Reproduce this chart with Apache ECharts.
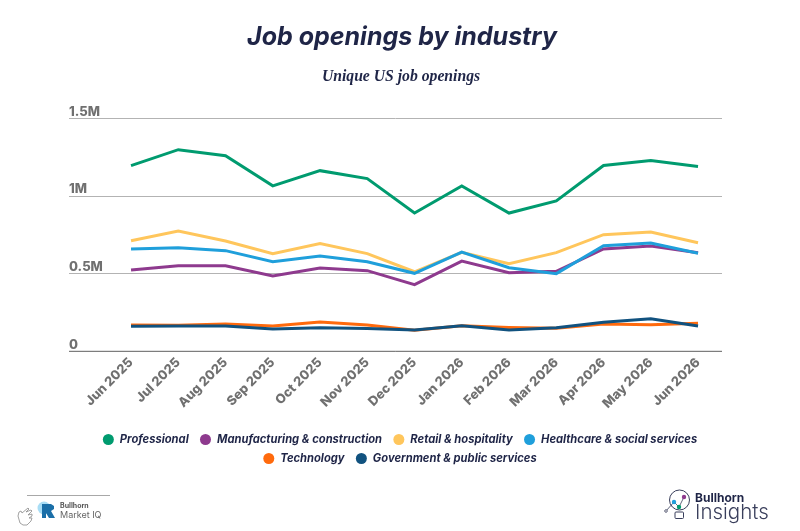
<!DOCTYPE html>
<html><head><meta charset="utf-8">
<style>html,body{margin:0;padding:0;background:#fff}#c{width:800px;height:531px}</style>
<script src="https://cdn.jsdelivr.net/npm/echarts@6/dist/echarts.min.js"></script>
</head><body><div id="c"></div>
<script>
const categories=["Jun 2025","Jul 2025","Aug 2025","Sep 2025","Oct 2025","Nov 2025","Dec 2025","Jan 2026","Feb 2026","Mar 2026","Apr 2026","May 2026","Jun 2026"];
const professional=[1.195,1.298,1.259,1.065,1.163,1.112,0.890,1.064,0.890,0.968,1.196,1.228,1.190];
const manufacturing=[0.523,0.551,0.551,0.485,0.536,0.519,0.429,0.581,0.506,0.515,0.659,0.678,0.635];
const retail=[0.712,0.775,0.710,0.629,0.693,0.629,0.512,0.637,0.564,0.635,0.751,0.768,0.699];
const healthcare=[0.659,0.667,0.648,0.577,0.614,0.577,0.502,0.639,0.538,0.500,0.680,0.697,0.631];
const technology=[0.169,0.167,0.176,0.163,0.189,0.169,0.135,0.165,0.154,0.148,0.176,0.171,0.180];
const government=[0.161,0.163,0.163,0.144,0.152,0.146,0.137,0.165,0.137,0.152,0.187,0.210,0.163];
const seriesNames=["Professional","Manufacturing & construction","Retail & hospitality","Healthcare & social services","Technology","Government & public services"];
const seriesColors=["#009B6F","#8E3A8E","#FFC65C","#1F9FDB","#FF6A0D","#11527F"];
const seriesData=[professional,manufacturing,retail,healthcare,technology,government];
const FONT="Inter, 'Noto Sans', sans-serif";
const NAVY="#1F2547";
const legendBase={icon:"circle",itemWidth:11,itemHeight:11,itemGap:11.3,
  textStyle:{fontFamily:FONT,fontSize:11.2,fontWeight:"bold",fontStyle:"italic",color:NAVY,padding:[0,0,0,1]}};
const chart=echarts.init(document.getElementById("c"),null,{renderer:"canvas"});
chart.setOption({
  animation:false,backgroundColor:"#fff",
  title:[
    {text:"Job openings by industry",left:397,top:20,textAlign:"center",textStyle:{fontFamily:FONT,fontSize:25,fontWeight:"bold",fontStyle:"italic",color:NAVY}},
    {text:"Unique US job openings",left:396,top:64,textAlign:"center",textStyle:{fontFamily:"'Liberation Serif',serif",fontSize:15.7,fontWeight:"bold",fontStyle:"italic",color:NAVY}}
  ],
  legend:[
    Object.assign({},legendBase,{data:seriesNames.slice(0,4),left:"center",top:429}),
    Object.assign({},legendBase,{data:seriesNames.slice(4),left:"center",top:448})
  ],
  grid:[
    {left:107.4,width:614.25,top:118.3,height:233,containLabel:false},
    {left:69,right:78,top:118.3,height:233}
  ],
  xAxis:[
    {type:"category",gridIndex:0,data:categories,boundaryGap:true,
      axisLine:{show:false},axisTick:{show:false},
      axisLabel:{rotate:45,interval:0,margin:9,fontFamily:FONT,fontSize:13,fontWeight:800,color:"#707070"}},
    {type:"category",gridIndex:1,data:categories,show:false}
  ],
  yAxis:[
    {type:"value",gridIndex:0,min:0,max:1.5,interval:0.5,show:false},
    {type:"value",gridIndex:1,min:0,max:1.5,interval:0.5,position:"left",
      axisLine:{show:false},axisTick:{show:false},
      splitLine:{show:true,lineStyle:{color:"#B3B3B3",width:1}},
      axisLabel:{inside:true,margin:0,verticalAlign:"bottom",align:"left",padding:[0,0,0,0],fontFamily:FONT,fontSize:13,fontWeight:800,color:"#707070",
        formatter:v=>v===0?"0":v+"M"}}
  ],
  series:seriesNames.map((n,i)=>({name:n,type:"line",xAxisIndex:0,yAxisIndex:0,data:seriesData[i],
    showSymbol:false,symbol:"circle",lineStyle:{width:3,color:seriesColors[i],join:"miter"},itemStyle:{color:seriesColors[i]}})),
  graphic:[
    {type:"line",shape:{x1:69,y1:351.3,x2:722,y2:351.3},style:{stroke:"#707070",lineWidth:1},z:5},
    {type:"line",shape:{x1:27,y1:495.5,x2:110,y2:495.5},style:{stroke:"#A8A8A8",lineWidth:1}},
    {type:"polygon",shape:{points:[[23,525],[20,523],[18,516],[19,512],[21,511],[22,513],[28,508],[29,509],[26,512],[31,510],[32,511],[28,515],[32,514],[32,516],[29,518],[32,518],[31,521],[27,525]]},style:{fill:"none",stroke:"#8A8A8A",lineWidth:0.8}},
    {type:"circle",shape:{cx:44,cy:508,r:6.5},style:{fill:"#A8DDF5"}},
    {type:"polygon",shape:{points:[[42,504],[51,504],[54,506],[54,509],[51,511],[55,518],[49,518],[46,513],[46,518],[42,518]]},style:{fill:"#1B6FA8"}},
    {type:"text",x:60,y:502,style:{text:"Bullhorn",fontFamily:FONT,fontSize:7,fontWeight:"bold",fill:"#555"}},
    {type:"text",x:60,y:511,style:{text:"Market IQ",fontFamily:FONT,fontSize:9,fill:"#666"}},
    {type:"circle",shape:{cx:679.5,cy:500,r:10},style:{fill:"none",stroke:"#3A3F5C",lineWidth:1}},
    {type:"rect",shape:{x:675,y:512,width:8.5,height:6.5,r:1},style:{fill:"#fff",stroke:"#3A3F5C",lineWidth:1}},
    {type:"polyline",shape:{points:[[666,511],[674,502],[679,507],[684,497]]},style:{fill:"none",stroke:"#3A3F5C",lineWidth:0.8}},
    {type:"circle",shape:{cx:666,cy:511,r:1.3},style:{fill:"#fff",stroke:"#3A3F5C",lineWidth:0.8}},
    {type:"circle",shape:{cx:674,cy:502,r:2.2},style:{fill:"#1F9FDB"}},
    {type:"circle",shape:{cx:679,cy:507,r:2.2},style:{fill:"#009B6F"}},
    {type:"circle",shape:{cx:684,cy:497,r:2.2},style:{fill:"#8E3A8E"}},
    {type:"text",x:695,y:492,style:{text:"Bullhorn",fontFamily:FONT,fontSize:12,fontWeight:"bold",fill:NAVY}},
    {type:"text",x:695,y:502,style:{text:"Insights",fontFamily:FONT,fontSize:20.5,fontWeight:300,fill:"#3A3F5C"}}
  ]
});
</script></body></html>
